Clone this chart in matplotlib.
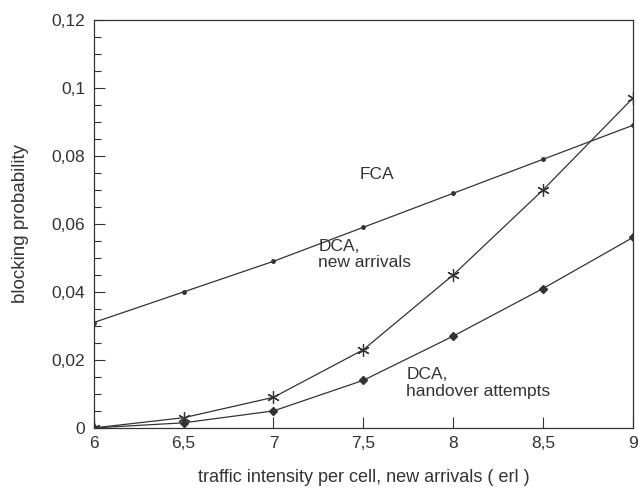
import numpy as np
import matplotlib
matplotlib.use("Agg")
import matplotlib.pyplot as plt

# --- Dados ---
traffic = [6, 6.5, 7, 7.5, 8, 8.5, 9]
fca = [0.031, 0.040, 0.049, 0.059, 0.069, 0.079, 0.089]
dca_new = [0.0, 0.003, 0.009, 0.023, 0.045, 0.070, 0.097]
dca_handover = [0.0, 0.0015, 0.005, 0.014, 0.027, 0.041, 0.056]

x_ticks = [6, 6.5, 7, 7.5, 8, 8.5, 9]
x_ticklabels = ["6", "6,5", "7", "7,5", "8", "8,5", "9"]
y_ticks = [0, 0.02, 0.04, 0.06, 0.08, 0.1, 0.12]
y_ticklabels = ["0", "0,02", "0,04", "0,06", "0,08", "0,1", "0,12"]

plt.rcParams["font.family"] = ["Liberation Sans", "DejaVu Sans"]
ink = "#333333"

fig = plt.figure(figsize=(6.38, 4.97), dpi=100)
ax = fig.add_axes([0.147, 0.139, 0.845, 0.821])

ax.plot(traffic, fca, color=ink, lw=0.9, marker="o", ms=2.5)
ax.plot(traffic, dca_new, color=ink, lw=0.9, marker=(6, 2, 0), ms=9, mew=0.9)
ax.plot(traffic, dca_handover, color=ink, lw=0.9, marker="D", ms=4.5)

ax.set_xlim(6, 9)
ax.set_ylim(0, 0.12)
ax.set_xticks(x_ticks)
ax.set_xticklabels(x_ticklabels)
ax.set_yticks(y_ticks)
ax.set_yticklabels(y_ticklabels)
ax.set_yticks(np.arange(0, 0.12, 0.005), minor=True)
ax.tick_params(axis="both", direction="in", length=8, width=0.8,
               labelsize=12.5, colors=ink, pad=6)
ax.tick_params(axis="y", which="minor", direction="in", length=5, width=0.8, colors=ink)
for s in ax.spines.values():
    s.set_color(ink)
    s.set_linewidth(0.9)

# Rótulos das curvas
ax.text(7.48, 0.0745, "FCA", fontsize=12.5, color=ink, va="center")
ax.text(7.25, 0.0555, "DCA,\nnew arrivals", fontsize=12.5, color=ink, va="top", linespacing=1.1)
ax.text(7.74, 0.0178, "DCA,\nhandover attempts", fontsize=12.5, color=ink, va="top", linespacing=1.1)

ax.set_xlabel("traffic intensity per cell, new arrivals ( erl )", fontsize=13, color=ink, labelpad=13)
ax.set_ylabel("blocking probability", fontsize=13.5, color=ink, labelpad=16)

plt.savefig("out.png", dpi=100)
plt.close()
